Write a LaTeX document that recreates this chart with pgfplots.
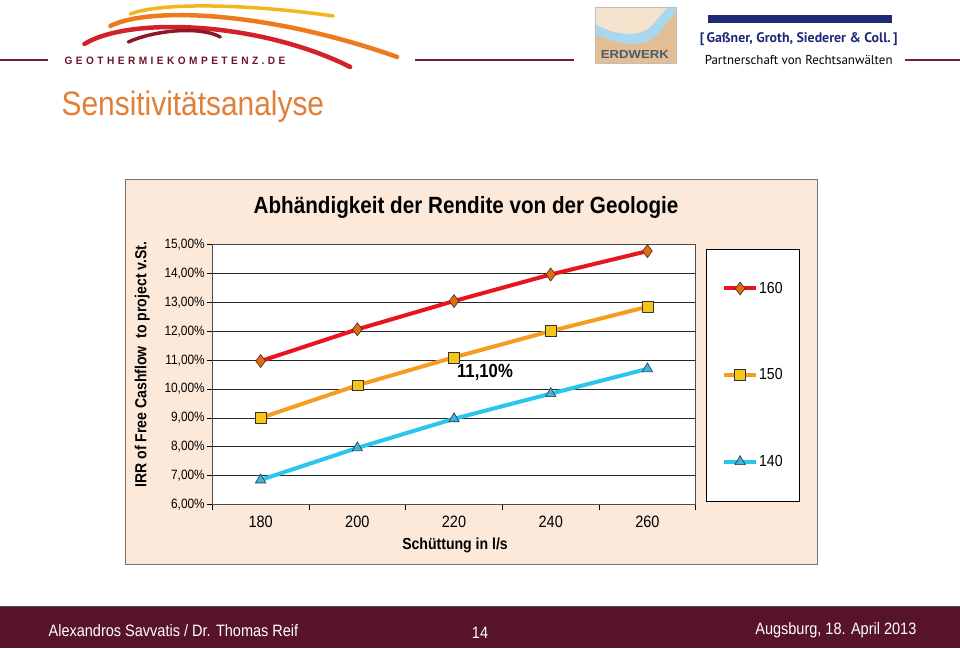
\documentclass[border=0pt]{standalone}
\usepackage{fontspec}
\setmainfont{Liberation Sans}[FakeStretch=0.88]
\newfontfamily\hdrfont{PT Sans}
\usepackage{pgfplots}
\pgfplotsset{compat=1.18}
\usepackage{graphicx}
\definecolor{chartbg}{HTML}{FCE9DA}
\definecolor{linered}{HTML}{E8161C}
\definecolor{diamondfill}{HTML}{E46C0A}
\definecolor{lineorange}{HTML}{F49D1E}
\definecolor{squarefill}{HTML}{F5C518}
\definecolor{linecyan}{HTML}{2AC6F0}
\definecolor{trifill}{HTML}{3BB4E0}
\definecolor{slidetitle}{HTML}{E27E36}
\definecolor{footer}{HTML}{57132A}
\definecolor{maroon}{HTML}{7A1F2F}
\definecolor{navy}{HTML}{1E2A78}
\definecolor{logoyellow}{HTML}{F2B51C}
\definecolor{logoorange}{HTML}{EE7A1E}
\definecolor{logored}{HTML}{D3202A}
\definecolor{logodark}{HTML}{8C1A24}
\definecolor{logotext}{HTML}{6E1626}
\definecolor{erdtan}{HTML}{E3BE94}
\definecolor{erdlight}{HTML}{F3E2CC}
\definecolor{erdblue}{HTML}{A9D8EE}
\definecolor{erdtext}{HTML}{4C5B6B}
\begin{document}
\begin{tikzpicture}
\begin{scope}[x=1pt,y=-1pt]
\fill[white] (0,0) rectangle (960,649);
\useasboundingbox (0,0) rectangle (960,649);
% header logo (decorative)
\draw[logoyellow, line width=3.5pt, line cap=round] (130,14) .. controls (160,2) and (250,4) .. (333,16);
\draw[logoorange, line width=4.5pt, line cap=round] (110,26) .. controls (150,6) and (270,12) .. (397,57);
\draw[logored, line width=4.5pt, line cap=round] (84,44) .. controls (130,16) and (260,22) .. (350,67);
\draw[logodark, line width=3.5pt, line cap=round] (128,42) .. controls (155,30) and (200,26) .. (220,37);
\node[anchor=west, inner sep=0pt, text=logotext] at (64,61)
  {\resizebox{221pt}{7.5pt}{\bfseries\addfontfeature{LetterSpace=30}GEOTHERMIEKOMPETENZ.DE}};
\draw[maroon, line width=2pt] (0,60) -- (48,60);
\draw[maroon, line width=2pt] (415,60) -- (574,60);
\draw[maroon, line width=2pt] (905,60) -- (960,60);
% ERDWERK logo
\fill[erdtan] (595,7) rectangle (676,63);
\fill[erdlight] (595,7) -- (595,24) .. controls (615,36) and (640,38) .. (652,26) -- (668,7) -- cycle;
\fill[erdblue] (595,24) .. controls (615,36) and (640,38) .. (652,26) -- (668,7) -- (676,7) -- (676,12)
  .. controls (660,30) and (655,46) .. (630,44) .. controls (615,43) and (605,38) .. (595,34) -- cycle;
\draw[gray!50] (595,7) rectangle (676,63);
\node[inner sep=0pt, text=erdtext] at (635,55) {\resizebox{68pt}{8pt}{\bfseries ERDWERK}};
% law firm header
\fill[navy] (708,15) rectangle (892,23);
\node[inner sep=0pt, text=navy] at (799,39) {\resizebox{198pt}{!}{\hdrfont\bfseries [\,Gaßner, Groth, Siederer \& Coll.\,]}};
\node[inner sep=0pt] at (799,60) {\resizebox{188pt}{!}{\hdrfont Partnerschaft von Rechtsanwälten}};
% slide title
\node[anchor=west, inner sep=0pt, text=slidetitle, font=\fontsize{34}{40}\selectfont] at (61,107) {Sensitivitätsanalyse};
% chart frame
\filldraw[fill=chartbg, draw=black!55, line width=0.8pt] (125,180) rectangle (818,565);
\node[font=\fontsize{23.5}{28}\selectfont\bfseries] at (466,208) {Abhändigkeit der Rendite von der Geologie};
\end{scope}
\begin{axis}[
  at={(212pt,-505pt)}, anchor=south west,
  scale only axis, width=484pt, height=260pt,
  xmin=170, xmax=270, ymin=6, ymax=15,
  xtick={180,200,...,260},
  minor xtick={170,190,...,270},
  ytick={6,7,...,15},
  xtick pos=bottom, ytick pos=left,
  tick align=outside,
  major tick length=5pt, minor tick length=6pt,
  major x tick style={draw=none},
  minor x tick style={black, line width=0.8pt},
  major y tick style={black, line width=0.8pt},
  ymajorgrids,
  grid style={black!85, line width=0.8pt},
  axis line style={black!70, line width=0.8pt},
  axis background/.style={fill=white},
  /pgf/number format/assume math mode=true,
  yticklabel={\pgfmathprintnumber[fixed,fixed zerofill,precision=2,use comma]{\tick}\%},
  xticklabel={\pgfmathprintnumber[int detect]{\tick}},
  y tick label style={font=\fontsize{13.5}{15}\selectfont, xshift=1pt},
  x tick label style={font=\fontsize{16.5}{19}\selectfont, yshift=-3pt},
  xlabel={Schüttung in l/s},
  xlabel style={font=\fontsize{16}{19}\selectfont\bfseries, at={(axis description cs:0.502,-0.158)}, anchor=center},
  ylabel={IRR of Free Cashflow\ \ to project v.St.},
  ylabel style={font=\fontsize{16}{19}\selectfont\bfseries, at={(axis description cs:-0.1446,0.5385)}, anchor=center},
  legend style={at={(rel axis cs:1.0207,0.9846)}, anchor=north west,
    draw=black, line width=0.8pt, fill=white,
    inner xsep=16pt, inner ysep=32pt, row sep=72pt,
    font=\fontsize{16}{19}\selectfont,
    nodes={inner sep=1pt}},
  legend cell align=left,
  legend image code/.code={\draw[mark repeat=2,mark phase=2,#1] plot coordinates {(0pt,0pt) (16pt,0pt) (32pt,0pt)};},
]
\addplot[linered, line width=4pt, mark=diamond*, mark size=6.5pt,
  mark options={fill=diamondfill, draw=black!80, line width=0.6pt, solid}]
  coordinates {(180,10.97) (200,12.07) (220,13.05) (240,13.97) (260,14.78)};
\addlegendentry{160}
\addplot[lineorange, line width=4pt, mark=square*, mark size=5.5pt,
  mark options={fill=squarefill, draw=black!80, line width=0.6pt, solid}]
  coordinates {(180,9.00) (200,10.13) (220,11.10) (240,12.01) (260,12.85)};
\addlegendentry{150}
\addplot[linecyan, line width=4pt, mark=triangle*, mark size=6pt,
  mark options={fill=trifill, draw=black!80, line width=0.6pt, solid}]
  coordinates {(180,6.85) (200,7.96) (220,8.97) (240,9.84) (260,10.70)};
\addlegendentry{140}
\node[anchor=north west, inner sep=0pt, font=\fontsize{19}{22}\selectfont\bfseries] at (axis cs:220.6,10.85) {11,10\%};
\end{axis}
\begin{scope}[x=1pt,y=-1pt]
\fill[footer] (0,607) rectangle (960,649);
\draw[black!70, line width=1pt] (0,607.5) -- (960,607.5);
\node[anchor=west, inner sep=0pt, text=white, font=\fontsize{16.5}{19}\selectfont] at (48,631) {Alexandros Savvatis / Dr. Thomas Reif};
\node[inner sep=0pt, text=white, font=\fontsize{16.5}{19}\selectfont] at (480,633) {14};
\node[anchor=east, inner sep=0pt, text=white, font=\fontsize{16.5}{19}\selectfont] at (917,631) {Augsburg, 18. April 2013};
\end{scope}
\end{tikzpicture}
\end{document}
